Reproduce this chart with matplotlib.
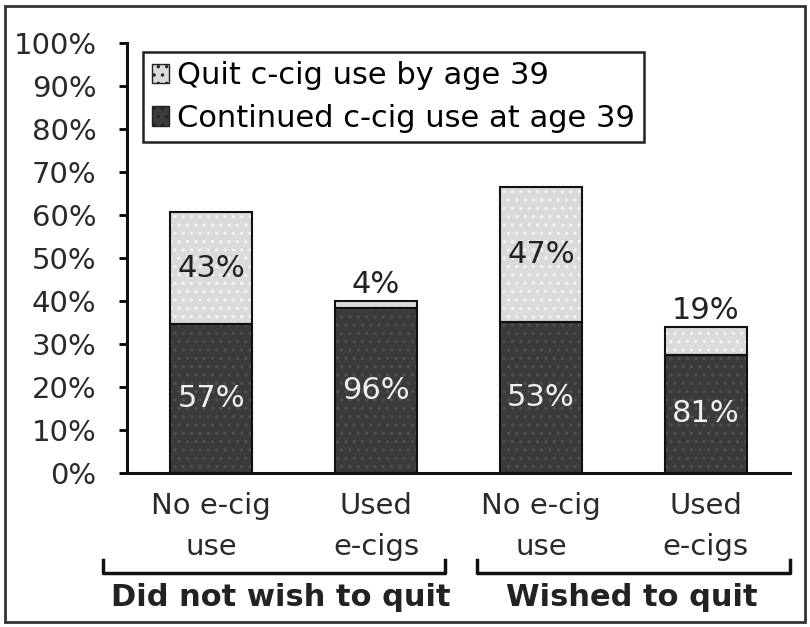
import matplotlib
matplotlib.use('Agg')
import matplotlib.pyplot as plt
import matplotlib.transforms as mtransforms
from matplotlib.patches import Patch, Rectangle
import numpy as np

# data (percent of smokers)
categories = ['No e-cig\nuse', 'Used\ne-cigs', 'No e-cig\nuse', 'Used\ne-cigs']
continued = [34.6, 38.4, 35.2, 27.5]   # continued c-cig use at age 39
quit = [26.1, 1.6, 31.3, 6.5]          # quit c-cig use by age 39
continued_lbl = ['57%', '96%', '53%', '81%']
quit_lbl = ['43%', '4%', '47%', '19%']
groups = ['Did not wish to quit', 'Wished to quit']
yticks = [0, 10, 20, 30, 40, 50, 60, 70, 80, 90, 100]

plt.rcParams['font.family'] = 'DejaVu Sans'
plt.rcParams['hatch.linewidth'] = 1.2

fig = plt.figure(figsize=(8.1, 6.27), dpi=100)
ax = fig.add_axes([127/810, 1-473/627, 663/810, 430/627])

x = np.arange(len(categories))
w = 0.5
dark, dark_h = '#3b3b3b', '#4f4f4f'
light, light_h = '#dadada', '#f2f2f2'

# filled + dotted layers, then black outlines
ax.bar(x, continued, w, color=dark, edgecolor=dark_h, hatch='..', linewidth=0)
ax.bar(x, quit, w, bottom=continued, color=light, edgecolor=light_h, hatch='..', linewidth=0)
ax.bar(x, continued, w, fill=False, edgecolor='#111111', linewidth=1.5)
ax.bar(x, quit, w, bottom=continued, fill=False, edgecolor='#111111', linewidth=1.5)

for i in range(len(x)):
    ax.text(x[i], continued[i]/2, continued_lbl[i], ha='center', va='center',
            color='#f0f0f0', fontsize=22)
    top = continued[i] + quit[i]
    if quit[i] > 10:
        ax.text(x[i], continued[i] + quit[i]/2, quit_lbl[i], ha='center', va='center',
                color='#222222', fontsize=22)
    else:
        ax.text(x[i], top + 0.5, quit_lbl[i], ha='center', va='bottom',
                color='#222222', fontsize=22)

ax.set_xlim(-0.51, 3.51)
ax.set_ylim(0, 100)
ax.set_yticks(yticks)
ax.set_yticklabels(['%d%%' % t for t in yticks], fontsize=21, color='#2a2a2a')
ax.set_xticks(x)
ax.set_xticklabels(categories, fontsize=21, color='#2a2a2a', linespacing=1.55)
ax.tick_params(axis='x', length=0, pad=14)
ax.tick_params(axis='y', length=6, width=2, direction='out', pad=16)
for s in ['top', 'right']:
    ax.spines[s].set_visible(False)
for s in ['left', 'bottom']:
    ax.spines[s].set_linewidth(2.2)
    ax.spines[s].set_color('#111111')

handles = [Patch(facecolor=light, edgecolor='#222222', hatch='..', label='Quit c-cig use by age 39'),
           Patch(facecolor=dark, edgecolor='#222222', hatch='..', label='Continued c-cig use at age 39')]
leg = ax.legend(handles=handles, loc='upper left', bbox_to_anchor=(0.024, 0.979),
                borderaxespad=0, fontsize=22, handlelength=0.55, handleheight=0.6,
                handletextpad=0.25, labelspacing=0.45, fancybox=False, framealpha=1,
                borderpad=0.3)
leg.get_frame().set_edgecolor('#222222')
leg.get_frame().set_linewidth(1.8)

# group brackets under the category labels
trans = mtransforms.blended_transform_factory(ax.transData, ax.transAxes)
for x0, x1 in [(-0.655, 1.418), (1.612, 3.51)]:
    ax.plot([x0, x0, x1, x1], [-0.202, -0.232, -0.232, -0.202], color='#111111',
            lw=2.5, transform=trans, clip_on=False)
ax.text(0.42, -0.29, groups[0], ha='center', va='center', fontsize=22,
        fontweight='bold', color='#222222', transform=trans)
ax.text(2.55, -0.29, groups[1], ha='center', va='center', fontsize=22,
        fontweight='bold', color='#222222', transform=trans)

fig.patches.append(Rectangle((5/810, 5/627), 800/810, 616/627, transform=fig.transFigure,
                             fill=False, edgecolor='#333333', linewidth=2))

fig.savefig('out.png', dpi=100)
